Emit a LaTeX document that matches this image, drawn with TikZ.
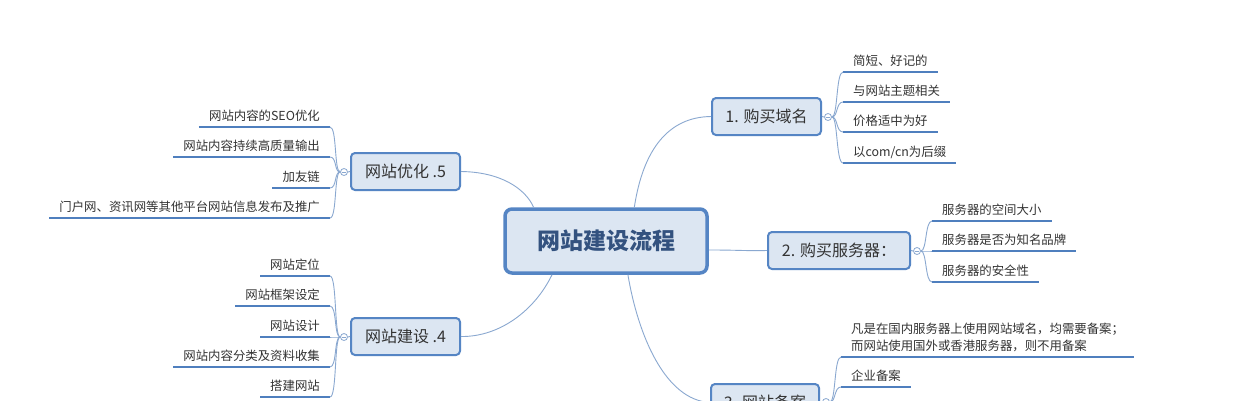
\documentclass[tikz,border=0pt]{standalone}
\usepackage{fontspec}
\setmainfont{Noto Sans CJK SC}
\usetikzlibrary{calc}
\definecolor{fillc}{HTML}{DCE6F2}
\definecolor{boxc}{HTML}{5585C4}
\definecolor{leafc}{HTML}{4F7FBE}
\definecolor{connc}{HTML}{8AA8D0}
\definecolor{txtc}{HTML}{333333}
\definecolor{rootc}{HTML}{33527F}
\begin{document}
\begin{tikzpicture}[x=1pt,y=-1pt,
  conn/.style={draw=connc, line width=0.9pt},
  leafline/.style={draw=leafc, line width=2.6pt},
  leaf/.style={inner xsep=10pt, inner ysep=6pt, text depth=0pt, font=\fontsize{12.4}{17}\selectfont, text=txtc},
  branch/.style={draw=boxc, line width=2pt, fill=fillc, rounded corners=4pt, minimum height=37pt, inner sep=0pt, font=\fontsize{16}{18}\selectfont, text=txtc},
  root/.style={draw=boxc, line width=3.5pt, fill=fillc, rounded corners=7pt, minimum width=202pt, minimum height=64pt, inner sep=0pt, font=\fontsize{23}{26}\selectfont\bfseries, text=rootc},
  knob/.style={circle, draw=connc, fill=white, line width=0.8pt, minimum size=7pt, inner sep=0pt,
    path picture={\draw[connc, line width=0.6pt] ([xshift=-2pt]path picture bounding box.center) -- ([xshift=2pt]path picture bounding box.center);}},
]
\useasboundingbox (0,0) rectangle (1252,400);
\fill[white] (0,0) rectangle (1252,400);
\clip (0,0) rectangle (1252,400);

% root
\node[root] (root) at (606,241) {网站建设流程};

% branches
\node[branch, minimum width=109pt] (b1) at (766.5,116.5) {1. 购买域名};
\node[branch, minimum width=142pt] (b2) at (839,250.5) {2. 购买服务器：};
\node[branch, minimum width=108pt] (b3) at (765,402.5) {3. 网站备案};
\node[branch, minimum width=109pt] (b5) at (405.5,171.5) {网站优化 .5};
\node[branch, minimum width=109pt] (b4) at (405.5,336.5) {网站建设 .4};

% main connectors
\draw[conn] (root.50) .. controls (643,150) and (668,117) .. (b1.west);
\draw[conn] (root.-5) .. controls (740,250) and (745,251) .. (b2.west);
\draw[conn] (root.-57) .. controls (638,335) and (665,400) .. (b3.west);
\draw[conn] (b5.east) .. controls (500,172) and (525,188) .. (root.155);
\draw[conn] (root.212) .. controls (535,310) and (500,337) .. (b4.east);

% knobs
\node[knob] (k1) at (828,117) {};
\node[knob] (k2) at (917,251) {};
\node[knob] (k3) at (826,402) {};
\node[knob] (k5) at (344,172) {};
\node[knob] (k4) at (344,337) {};
\draw[conn] (b1.east) -- (k1.west);
\draw[conn] (b2.east) -- (k2.west);
\draw[conn] (b3.east) -- (k3.west);
\draw[conn] (b5.west) -- (k5.east);
\draw[conn] (b4.west) -- (k4.east);

% branch 1 leaves
\foreach \n/\y/\t in {a1/72/{简短、好记的}, a2/102/{与网站主题相关}, a3/132/{价格适中为好}, a4/163/{以com/cn为后缀}}{
  \node[leaf, anchor=south west] (\n) at (843,\y) {\t};
  \draw[leafline] (\n.south west) -- (\n.south east);
  \draw[conn] (k1.east) .. controls +(6,0) and +(-7,0) .. (\n.south west);
}

% branch 2 leaves
\foreach \n/\y/\t in {s1/221/{服务器的空间大小}, s2/251/{服务器是否为知名品牌}, s3/282/{服务器的安全性}}{
  \node[leaf, anchor=south west] (\n) at (932,\y) {\t};
  \draw[leafline] (\n.south west) -- (\n.south east);
  \draw[conn] (k2.east) .. controls +(6,0) and +(-7,0) .. (\n.south west);
}

% branch 3 leaves
\node[leaf, anchor=south west, align=left] (r1) at (841,357) {凡是在国内服务器上使用网站域名，均需要备案；\\而网站使用国外或香港服务器，则不用备案};
\node[leaf, anchor=south west] (r2) at (841,387) {企业备案};
\foreach \n in {r1,r2}{
  \draw[leafline] (\n.south west) -- (\n.south east);
  \draw[conn] (k3.east) .. controls +(6,0) and +(-7,0) .. (\n.south west);
}

% branch 5 leaves
\foreach \n/\y/\t in {e1/127/{网站内容的SEO优化}, e2/157/{网站内容持续高质量输出}, e3/188/{加友链}, e4/218/{门户网、资讯网等其他平台网站信息发布及推广}}{
  \node[leaf, anchor=south east] (\n) at (330,\y) {\t};
  \draw[leafline] (\n.south west) -- (\n.south east);
  \draw[conn] (k5.west) .. controls +(-6,0) and +(7,0) .. (\n.south east);
}

% branch 4 leaves
\foreach \n/\y/\t in {d1/276/{网站定位}, d2/306/{网站框架设定}, d3/337/{网站设计}, d4/367/{网站内容分类及资料收集}, d5/397/{搭建网站}}{
  \node[leaf, anchor=south east] (\n) at (330,\y) {\t};
  \draw[leafline] (\n.south west) -- (\n.south east);
  \draw[conn] (k4.west) .. controls +(-6,0) and +(7,0) .. (\n.south east);
}
\end{tikzpicture}
\end{document}
